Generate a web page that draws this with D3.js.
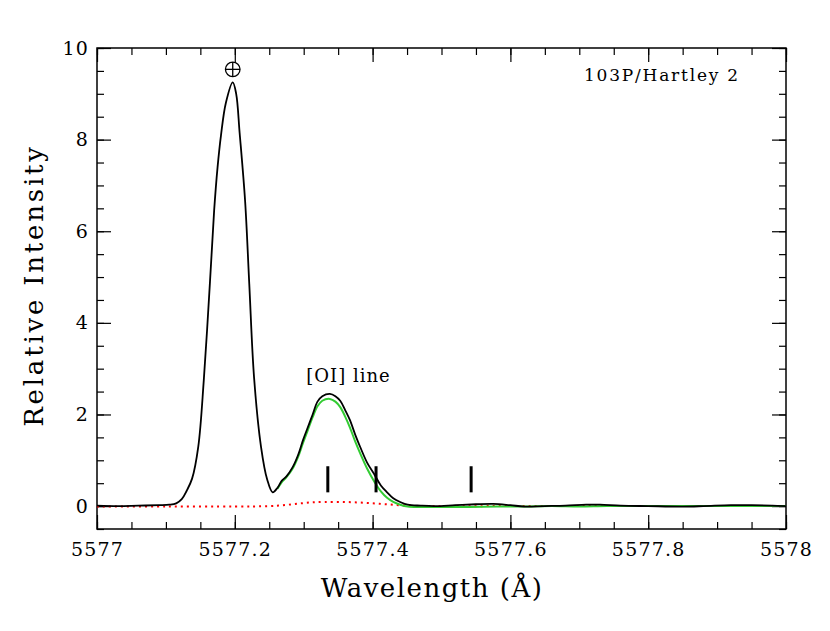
<!DOCTYPE html>
<html>
<head>
<meta charset="utf-8">
<script src="https://cdn.jsdelivr.net/npm/d3@7"></script>
<style>
  body { margin: 0; background: #fff; }
  text { font-family: "DejaVu Serif", serif; fill: #000; }
</style>
</head>
<body>
<div class="chart"></div>
<script>
// observed spectrum (black)
const obsWave = [5577.000, 5577.030, 5577.060, 5577.090, 5577.105, 5577.115, 5577.123, 5577.130, 5577.138, 5577.147,
  5577.155, 5577.164, 5577.170, 5577.175, 5577.180, 5577.187, 5577.197, 5577.202, 5577.207, 5577.215,
  5577.221, 5577.228, 5577.238, 5577.247, 5577.255, 5577.262, 5577.268, 5577.275, 5577.284, 5577.292,
  5577.299, 5577.306, 5577.313, 5577.320, 5577.327, 5577.338, 5577.346, 5577.353, 5577.360, 5577.367,
  5577.375, 5577.382, 5577.392, 5577.403, 5577.412, 5577.421, 5577.430, 5577.440, 5577.451, 5577.470,
  5577.490, 5577.520, 5577.550, 5577.575, 5577.600, 5577.620, 5577.650, 5577.680, 5577.710, 5577.730,
  5577.760, 5577.800, 5577.850, 5577.880, 5577.920, 5577.950, 5577.980, 5578.000];
const obsFlux = [0.01, 0.00, 0.01, 0.02, 0.03, 0.06, 0.15, 0.33, 0.60, 1.30,
  2.75, 4.90, 6.45, 7.40, 8.10, 8.80, 9.25, 9.00, 8.15, 6.65,
  4.85, 2.80, 1.30, 0.58, 0.30, 0.40, 0.55, 0.65, 0.85, 1.12,
  1.44, 1.72, 2.00, 2.28, 2.40, 2.45, 2.40, 2.30, 2.10, 1.88,
  1.55, 1.29, 0.95, 0.68, 0.45, 0.30, 0.17, 0.09, 0.03, 0.01,
  0.00, 0.02, 0.04, 0.05, 0.02, -0.01, 0.00, 0.01, 0.03, 0.03,
  0.01, 0.00, -0.01, 0.00, 0.02, 0.02, 0.01, 0.00];

// model fit (green)
const fitWave = [5577.262, 5577.268, 5577.275, 5577.284, 5577.292, 5577.299, 5577.306, 5577.313, 5577.320, 5577.327,
  5577.338, 5577.346, 5577.353, 5577.360, 5577.367, 5577.375, 5577.382, 5577.392, 5577.403, 5577.412,
  5577.421, 5577.430, 5577.440, 5577.451, 5577.470, 5577.500, 5577.540, 5577.580, 5577.620, 5577.660,
  5577.700, 5577.740, 5577.800, 5577.900, 5578.000];
const fitFlux = [0.38, 0.52, 0.63, 0.82, 1.08, 1.38, 1.66, 1.94, 2.18, 2.30,
  2.34, 2.28, 2.16, 1.96, 1.72, 1.40, 1.15, 0.82, 0.52, 0.32,
  0.18, 0.09, 0.03, -0.01, -0.02, -0.02, -0.02, -0.01, -0.01, 0.00,
  -0.01, 0.00, 0.00, 0.00, 0.00];

// residual component (red dotted)
const compWave = [5577.000, 5577.100, 5577.200, 5577.250, 5577.270, 5577.290, 5577.310, 5577.330, 5577.360, 5577.390,
  5577.420, 5577.450, 5577.480, 5577.600, 5577.800, 5578.000];
const compFlux = [-0.01, -0.01, -0.01, 0.00, 0.02, 0.05, 0.08, 0.09, 0.09, 0.07,
  0.04, 0.01, 0.00, 0.00, 0.00, 0.00];

// line markers
const markerWave = [5577.335, 5577.405, 5577.543];
const markerLow = 0.3, markerHigh = 0.87;

const xMajor = [5577, 5577.2, 5577.4, 5577.6, 5577.8, 5578];
const yMajor = [0, 2, 4, 6, 8, 10];

const earthWave = 5577.197, earthFlux = 9.25;
const lineLabel = "[OI] line";
const cometLabel = "103P/Hartley 2";

const W = 830, H = 631;
const margin = { top: 48, right: 44, bottom: 102, left: 97 };
const width = W - margin.left - margin.right;
const height = H - margin.top - margin.bottom;

const svg = d3.select(".chart").append("svg")
  .attr("width", W).attr("height", H);
const g = svg.append("g")
  .attr("transform", "translate(" + margin.left + "," + margin.top + ")");

const x = d3.scaleLinear().domain([5577, 5578]).range([0, width]);
const y = d3.scaleLinear().domain([-0.5, 10]).range([height, 0]);

const xMinor = d3.range(5577, 5578.001, 0.05).map(v => +v.toFixed(2));
const yMinor = d3.range(-0.5, 10.001, 0.5);
const fmt = d => String(+d.toFixed(1));

function axisGroup(axis, tr) {
  const a = g.append("g").attr("transform", tr).call(axis);
  a.select(".domain").remove();
  a.selectAll(".tick line").attr("stroke", "#000").attr("stroke-width", 1.2);
  return a;
}

// ticks on all four sides, pointing inward
axisGroup(d3.axisBottom(x).tickValues(xMinor).tickSize(-7).tickFormat(""), "translate(0," + height + ")");
const xb = axisGroup(d3.axisBottom(x).tickValues(xMajor).tickSize(-14).tickPadding(14).tickFormat(fmt), "translate(0," + height + ")");
axisGroup(d3.axisTop(x).tickValues(xMinor).tickSize(-7).tickFormat(""), "translate(0,0)");
axisGroup(d3.axisTop(x).tickValues(xMajor).tickSize(-14).tickFormat(""), "translate(0,0)");
axisGroup(d3.axisLeft(y).tickValues(yMinor).tickSize(-7).tickFormat(""), "translate(0,0)");
const yl = axisGroup(d3.axisLeft(y).tickValues(yMajor).tickSize(-14).tickPadding(8).tickFormat(fmt), "translate(0,0)");
axisGroup(d3.axisRight(y).tickValues(yMinor).tickSize(-7).tickFormat(""), "translate(" + width + ",0)");
axisGroup(d3.axisRight(y).tickValues(yMajor).tickSize(-14).tickFormat(""), "translate(" + width + ",0)");

xb.selectAll("text").style("font-size", "19px").style("letter-spacing", "1.2px").attr("fill", "#000");
yl.selectAll("text").style("font-size", "19px").style("letter-spacing", "1.2px").attr("fill", "#000");

g.append("rect")
  .attr("width", width).attr("height", height)
  .attr("fill", "none").attr("stroke", "#000").attr("stroke-width", 1.5);

const line = d3.line()
  .x(d => x(d[0]))
  .y(d => y(d[1]))
  .curve(d3.curveCatmullRom);

g.append("path")
  .datum(d3.zip(compWave, compFlux))
  .attr("fill", "none")
  .attr("stroke", "#ff0000")
  .attr("stroke-width", 2)
  .attr("stroke-dasharray", "2,4")
  .attr("d", line);

g.append("path")
  .datum(d3.zip(fitWave, fitFlux))
  .attr("fill", "none")
  .attr("stroke", "#33cc33")
  .attr("stroke-width", 2)
  .attr("d", line);

g.append("path")
  .datum(d3.zip(obsWave, obsFlux))
  .attr("fill", "none")
  .attr("stroke", "#000")
  .attr("stroke-width", 1.8)
  .attr("d", line);

g.selectAll(".marker")
  .data(markerWave)
  .enter().append("line")
  .attr("class", "marker")
  .attr("x1", d => x(d)).attr("x2", d => x(d))
  .attr("y1", y(markerLow)).attr("y2", y(markerHigh))
  .attr("stroke", "#000").attr("stroke-width", 3);

// Earth symbol above telluric line
const ex = x(earthWave), ey = y(earthFlux) - 13;
g.append("circle")
  .attr("cx", ex).attr("cy", ey).attr("r", 7.3)
  .attr("fill", "none").attr("stroke", "#000").attr("stroke-width", 1.3);
g.append("line")
  .attr("x1", ex - 7.3).attr("x2", ex + 7.3).attr("y1", ey).attr("y2", ey)
  .attr("stroke", "#000").attr("stroke-width", 1.3);
g.append("line")
  .attr("x1", ex).attr("x2", ex).attr("y1", ey - 7.3).attr("y2", ey + 7.3)
  .attr("stroke", "#000").attr("stroke-width", 1.3);

g.append("text")
  .attr("x", x(5577.365)).attr("y", y(2.45) - 12)
  .attr("text-anchor", "middle")
  .style("font-size", "18px")
  .style("letter-spacing", "1px")
  .text(lineLabel);

g.append("text")
  .attr("x", width - 46).attr("y", 33)
  .attr("text-anchor", "end")
  .style("font-size", "17px")
  .style("letter-spacing", "1.8px")
  .text(cometLabel);

svg.append("text")
  .attr("x", 432).attr("y", 597)
  .attr("text-anchor", "middle")
  .style("font-size", "26px")
  .style("letter-spacing", "1.5px")
  .text("Wavelength (Å)");

svg.append("text")
  .attr("transform", "translate(43," + (margin.top + height / 2 - 3) + ") rotate(-90)")
  .attr("text-anchor", "middle")
  .style("font-size", "26px")
  .style("letter-spacing", "2.8px")
  .text("Relative Intensity");
</script>
</body>
</html>
